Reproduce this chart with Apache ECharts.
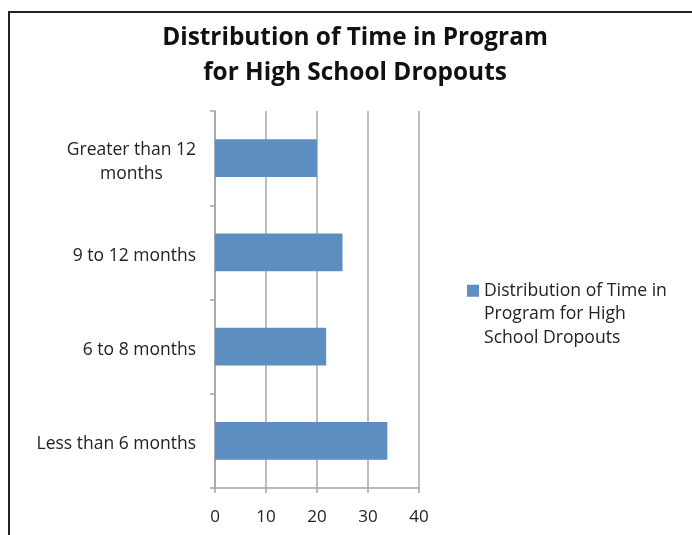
<!DOCTYPE html>
<html lang="en">
<head>
<meta charset="UTF-8">
<title>Distribution of Time in Program</title>
<script src="https://cdn.jsdelivr.net/npm/echarts@6/dist/echarts.min.js"></script>
<style>
  html, body { margin: 0; padding: 0; background: #fff; }
  #chart { width: 692px; height: 535px; }
</style>
</head>
<body>
<div id="chart"></div>
<script>
    // data
    var categories = ['Less than 6 months', '6 to 8 months', '9 to 12 months', 'Greater than 12 months'];
    var values = [33.8, 21.8, 25, 20];
    var seriesName = 'Distribution of Time in Program for High School Dropouts';
    var xTicks = [0, 10, 20, 30, 40];

    var font = '"Open Sans", Lato, sans-serif';
    var chart = echarts.init(document.getElementById('chart'));

    chart.setOption({
        animation: false,
        title: {
            text: 'Distribution of Time in Program\nfor High School Dropouts',
            left: 350,
            top: 16,
            textAlign: 'center',
            textStyle: { fontFamily: font, fontSize: 24.4, fontWeight: 'bold', color: '#111', lineHeight: 35 }
        },
        legend: {
            left: 462,
            top: 227,
            itemWidth: 12,
            itemHeight: 12,
            itemGap: 0,
            icon: 'rect',
            // two empty lines first so the swatch sits on the first text line
            formatter: function () { return '\n\nDistribution of Time in\nProgram for High\nSchool Dropouts'; },
            textStyle: { fontFamily: font, fontSize: 17.6, color: '#222', lineHeight: 23.5 }
        },
        grid: { left: 215, right: 273, top: 111, bottom: 47 },
        xAxis: {
            type: 'value',
            min: xTicks[0],
            max: xTicks[xTicks.length - 1],
            interval: 10,
            axisLine: { show: true, lineStyle: { color: '#a4a4a4', width: 1.5 } },
            axisTick: { show: true, length: 5, lineStyle: { color: '#a4a4a4', width: 1.5 } },
            splitLine: { show: true, lineStyle: { color: '#a8a8a8', width: 1.5 } },
            axisLabel: { fontFamily: font, fontSize: 17, color: '#222', margin: 21 }
        },
        yAxis: {
            type: 'category',
            data: categories,
            axisLine: { show: true, lineStyle: { color: '#a4a4a4', width: 1.5 } },
            axisTick: { show: true, length: 5, lineStyle: { color: '#a4a4a4', width: 1.5 } },
            axisLabel: {
                fontFamily: font, fontSize: 17.5, color: '#222', margin: 19,
                padding: [7, 0, 0, 0],
                formatter: function (v) {
                    if (v === 'Greater than 12 months') return '{c|Greater than 12}\n{c|months}';
                    return v;
                },
                rich: { c: { fontFamily: font, fontSize: 17.5, color: '#222', align: 'center', lineHeight: 24 } }
            }
        },
        series: [{
            name: seriesName,
            type: 'bar',
            data: values,
            barWidth: '40%',
            itemStyle: { color: '#5d8ec1' }
        }],
        graphic: [{
            type: 'polyline',
            shape: { points: [[9, 535], [9, 12], [692, 12]] },
            style: { stroke: '#222', lineWidth: 2, fill: null },
            silent: true
        }]
    });
</script>
</body>
</html>
